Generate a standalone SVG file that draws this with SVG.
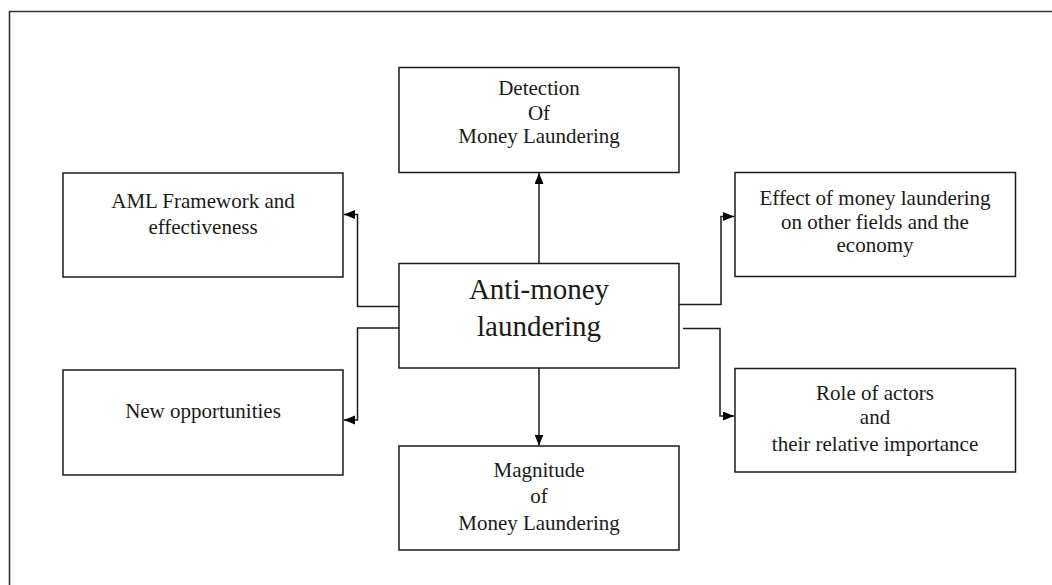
<svg xmlns="http://www.w3.org/2000/svg" width="1052" height="585" viewBox="0 0 1052 585">
  <defs>
    <marker id="arrow" markerUnits="userSpaceOnUse" markerWidth="12" markerHeight="10" refX="11" refY="4.5" orient="auto">
      <path d="M0,0 L11,4.5 L0,9 z" fill="#000"/>
    </marker>
    <style>
      .box { fill: #fff; stroke: #1a1a1a; stroke-width: 1.5; }
      .txt { font-family: 'Liberation Serif', 'Times New Roman', Tinos, 'DejaVu Serif', serif; font-size: 21px; fill: #1a1a1a; text-anchor: middle; }
      .big { font-size: 29px; }
      .conn { fill: none; stroke: #1a1a1a; stroke-width: 1.5; marker-end: url(#arrow); }
    </style>
  </defs>
  <rect x="0" y="0" width="1052" height="585" fill="#fff"/>
  <path d="M9.5,600 V11.5 H1060" fill="none" stroke="#333" stroke-width="1.6"/>

  <g id="connectors">
    <path class="conn" d="M539,263 V173"/>
    <path class="conn" d="M539,368 V445.5"/>
    <path class="conn" d="M399,306.5 H357.5 V214.5 H344"/>
    <path class="conn" d="M399,328 H357.5 V420 H344"/>
    <path class="conn" d="M679,304.5 H721 V216.5 H734"/>
    <path class="conn" d="M683,328.5 H720 V416 H734"/>
  </g>

  <g id="node-center">
    <rect class="box" x="399" y="263.5" width="280" height="104.5"/>
    <text class="txt big" x="539" y="299" font-family="Liberation Serif, serif">Anti-money</text>
    <text class="txt big" x="539" y="336" font-family="Liberation Serif, serif">laundering</text>
  </g>

  <g id="node-detection">
    <rect class="box" x="399" y="67.5" width="280" height="105"/>
    <text class="txt" x="539" y="95">Detection</text>
    <text class="txt" x="539" y="120">Of</text>
    <text class="txt" x="539" y="143">Money Laundering</text>
  </g>

  <g id="node-magnitude">
    <rect class="box" x="399" y="446" width="280" height="104"/>
    <text class="txt" x="539" y="477">Magnitude</text>
    <text class="txt" x="539" y="503">of</text>
    <text class="txt" x="539" y="530">Money Laundering</text>
  </g>

  <g id="node-aml">
    <rect class="box" x="63" y="173" width="280" height="104"/>
    <text class="txt" x="203" y="208">AML Framework and</text>
    <text class="txt" x="203" y="234">effectiveness</text>
  </g>

  <g id="node-new">
    <rect class="box" x="63" y="370" width="280" height="105"/>
    <text class="txt" x="203" y="418">New opportunities</text>
  </g>

  <g id="node-effect">
    <rect class="box" x="735" y="172.5" width="280.5" height="104"/>
    <text class="txt" x="875" y="205">Effect of money laundering</text>
    <text class="txt" x="875" y="229">on other fields and the</text>
    <text class="txt" x="875" y="252">economy</text>
  </g>

  <g id="node-role">
    <rect class="box" x="735" y="368.5" width="280.5" height="103.5"/>
    <text class="txt" x="875" y="400">Role of actors</text>
    <text class="txt" x="875" y="424">and</text>
    <text class="txt" x="875" y="451">their relative importance</text>
  </g>
</svg>
